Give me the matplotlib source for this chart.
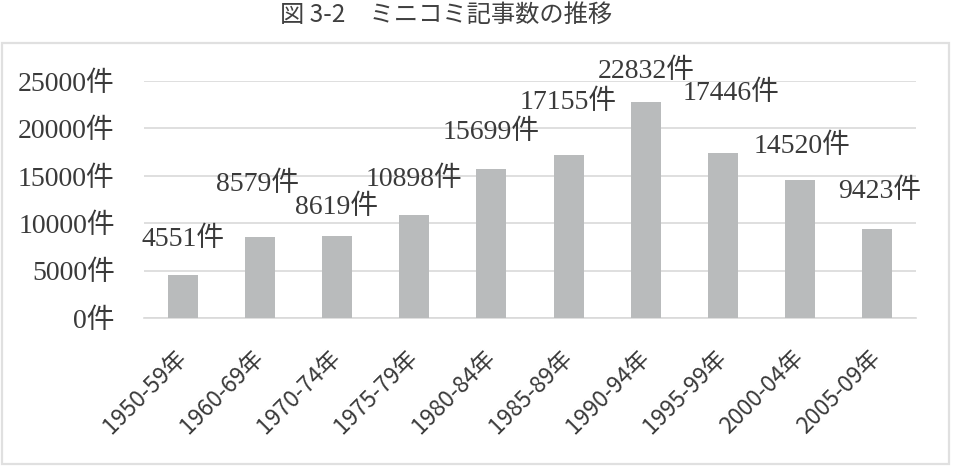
import matplotlib
matplotlib.use("Agg")
import matplotlib.pyplot as plt
from matplotlib.patches import Rectangle

categories = ["1950-59年", "1960-69年", "1970-74年", "1975-79年", "1980-84年",
              "1985-89年", "1990-94年", "1995-99年", "2000-04年", "2005-09年"]
values = [4551, 8579, 8619, 10898, 15699, 17155, 22832, 17446, 14520, 9423]
yticks = [0, 5000, 10000, 15000, 20000, 25000]
title = "図 3-2　ミニコミ記事数の推移"

# label offsets (pixels) from bar top, as placed in the reference
label_dx = [0, -2, 0, 0, 0, 0, 0, 8, 2, 2]
label_dy = [36, 52, 29, 35, 37, 53, 30, 59, 34, 37]

W, H = 955, 476
fig = plt.figure(figsize=(W / 100, H / 100), dpi=100)
fig.patch.set_facecolor("white")

serif = ["Liberation Serif", "Noto Sans CJK JP"]
sans = ["Noto Sans CJK JP"]
txt_col = "#3a3a3a"

fig.add_artist(Rectangle((1.5 / W, 1 - 464 / H), (949 - 1.5) / W, (464 - 43) / H,
                         transform=fig.transFigure, fill=False,
                         edgecolor="#e0e0e0", linewidth=1.6))

fig.text(446 / W, 1 - 15 / H, title, ha="center", va="center",
         fontsize=17.5, family=sans, color="#404040")

ax = fig.add_axes([144 / W, 1 - 318 / H, (916 - 144) / W, (318 - 81) / H])
x = list(range(len(categories)))
ax.bar(x, values, width=0.39, color="#b9bbbc", zorder=3)
ax.set_xlim(-0.5, len(categories) - 0.5)
ax.set_ylim(0, 25000)
ax.set_yticks(yticks)
ax.set_yticklabels([f"{v}件" for v in yticks], family=serif, fontsize=20, color=txt_col)
ax.tick_params(axis="y", length=0, pad=21)
ax.set_xticks(x)
ax.set_xticklabels(categories, rotation=45, ha="right", va="center", rotation_mode="anchor",
                   family=sans, fontsize=16.5, color=txt_col)
ax.tick_params(axis="x", length=0, pad=26)
ax.grid(axis="y", color="#d9d9d9", linewidth=1.2, zorder=0)
for s in ["top", "right", "left"]:
    ax.spines[s].set_visible(False)
ax.spines["bottom"].set_color("#d9d9d9")
ax.spines["bottom"].set_linewidth(1.2)

for i, v in enumerate(values):
    ax.annotate(f"{v}件", xy=(i, v), xytext=(label_dx[i], label_dy[i]),
                textcoords="offset pixels", ha="center", va="center",
                family=serif, fontsize=20, color=txt_col)

fig.savefig("out.png", dpi=100)
